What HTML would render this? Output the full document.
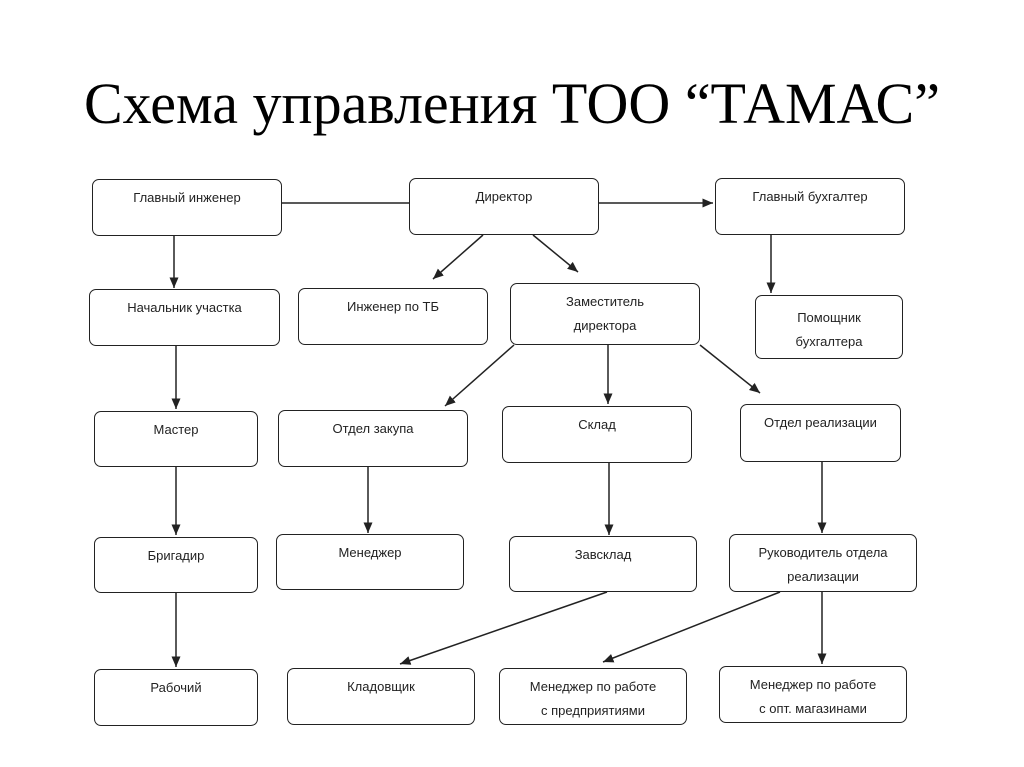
<!DOCTYPE html>
<html><head><meta charset="utf-8"><style>
body{margin:0;background:#fff;width:1024px;height:767px;overflow:hidden;position:relative;font-family:"Liberation Sans","DejaVu Sans",sans-serif}
.t{position:absolute;top:70px;left:0;width:1024px;text-align:center;font-family:"Liberation Serif",serif;font-size:58px;color:#000}
.b{position:absolute;border:1.5px solid #222;border-radius:7px;box-sizing:border-box;text-align:center;font-size:13px;color:#222;line-height:24px;padding-top:6px}
</style></head><body>
<div class="t">Схема управления ТОО “ТАМАС”</div>
<svg width="1024" height="767" style="position:absolute;left:0;top:0">
<defs><marker id="a" markerWidth="8" markerHeight="8" refX="7" refY="4" orient="auto"><path d="M0,1 L7,4 L0,7z" fill="#222"/></marker></defs>
<g stroke="#222" stroke-width="1.5" fill="none">
<line x1="282" y1="203" x2="409" y2="203"/>
<line x1="599" y1="203" x2="713" y2="203" marker-end="url(#a)"/>
<line x1="174" y1="236" x2="174" y2="288" marker-end="url(#a)"/>
<line x1="483" y1="235" x2="433" y2="279" marker-end="url(#a)"/>
<line x1="533" y1="235" x2="578" y2="272" marker-end="url(#a)"/>
<line x1="771" y1="235" x2="771" y2="293" marker-end="url(#a)"/>
<line x1="176" y1="346" x2="176" y2="409" marker-end="url(#a)"/>
<line x1="514" y1="345" x2="445" y2="406" marker-end="url(#a)"/>
<line x1="608" y1="345" x2="608" y2="404" marker-end="url(#a)"/>
<line x1="700" y1="345" x2="760" y2="393" marker-end="url(#a)"/>
<line x1="176" y1="467" x2="176" y2="535" marker-end="url(#a)"/>
<line x1="368" y1="467" x2="368" y2="533" marker-end="url(#a)"/>
<line x1="609" y1="463" x2="609" y2="535" marker-end="url(#a)"/>
<line x1="822" y1="462" x2="822" y2="533" marker-end="url(#a)"/>
<line x1="176" y1="593" x2="176" y2="667" marker-end="url(#a)"/>
<line x1="607" y1="592" x2="400" y2="664" marker-end="url(#a)"/>
<line x1="780" y1="592" x2="603" y2="662" marker-end="url(#a)"/>
<line x1="822" y1="592" x2="822" y2="664" marker-end="url(#a)"/>
</g></svg>
<div class="b" style="left:92px;top:179px;width:190px;height:57px">Главный инженер</div>
<div class="b" style="left:409px;top:178px;width:190px;height:57px">Директор</div>
<div class="b" style="left:715px;top:178px;width:190px;height:57px">Главный бухгалтер</div>
<div class="b" style="left:89px;top:289px;width:191px;height:57px">Начальник участка</div>
<div class="b" style="left:298px;top:288px;width:190px;height:57px">Инженер по ТБ</div>
<div class="b" style="left:510px;top:283px;width:190px;height:62px">Заместитель<br>директора</div>
<div class="b" style="left:755px;top:295px;width:148px;height:64px;padding-top:10px">Помощник<br>бухгалтера</div>
<div class="b" style="left:94px;top:411px;width:164px;height:56px">Мастер</div>
<div class="b" style="left:278px;top:410px;width:190px;height:57px">Отдел закупа</div>
<div class="b" style="left:502px;top:406px;width:190px;height:57px">Склад</div>
<div class="b" style="left:740px;top:404px;width:161px;height:58px">Отдел реализации</div>
<div class="b" style="left:94px;top:537px;width:164px;height:56px">Бригадир</div>
<div class="b" style="left:276px;top:534px;width:188px;height:56px">Менеджер</div>
<div class="b" style="left:509px;top:536px;width:188px;height:56px">Завсклад</div>
<div class="b" style="left:729px;top:534px;width:188px;height:58px">Руководитель отдела<br>реализации</div>
<div class="b" style="left:94px;top:669px;width:164px;height:57px">Рабочий</div>
<div class="b" style="left:287px;top:668px;width:188px;height:57px">Кладовщик</div>
<div class="b" style="left:499px;top:668px;width:188px;height:57px">Менеджер по работе<br>с предприятиями</div>
<div class="b" style="left:719px;top:666px;width:188px;height:57px">Менеджер по работе<br>с опт. магазинами</div>
</body></html>
